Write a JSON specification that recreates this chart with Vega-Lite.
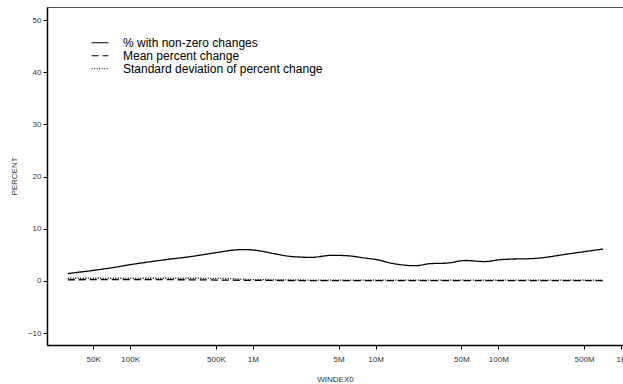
{
  "$schema": "https://vega.github.io/schema/vega-lite/v6.json",
  "autosize": {"type": "none"},
  "width": 576,
  "height": 338,
  "padding": {"left": 47, "top": 7, "right": 0, "bottom": 39},
  "background": "white",
  "config": {
    "font": "Liberation Sans",
    "view": {"stroke": "#555555", "strokeWidth": 1},
    "axis": {"grid": false, "domainColor": "black", "domainWidth": 1.5, "tickColor": "black", "tickSize": 4, "labelFontSize": 8, "labelColor": "#333333", "titleFontSize": 8, "titleFontWeight": "normal", "titleColor": "#333333", "labelFont": "Liberation Sans", "titleFont": "Liberation Sans"}
  },
  "data": {
    "values": [
      {"w": 31000, "v": 1.4, "s": "% with non-zero changes"},
      {"w": 50000, "v": 2.0, "s": "% with non-zero changes"},
      {"w": 75000, "v": 2.6, "s": "% with non-zero changes"},
      {"w": 100000, "v": 3.1, "s": "% with non-zero changes"},
      {"w": 150000, "v": 3.7, "s": "% with non-zero changes"},
      {"w": 200000, "v": 4.1, "s": "% with non-zero changes"},
      {"w": 300000, "v": 4.6, "s": "% with non-zero changes"},
      {"w": 500000, "v": 5.4, "s": "% with non-zero changes"},
      {"w": 700000, "v": 5.9, "s": "% with non-zero changes"},
      {"w": 850000, "v": 6.0, "s": "% with non-zero changes"},
      {"w": 1100000, "v": 5.8, "s": "% with non-zero changes"},
      {"w": 1500000, "v": 5.2, "s": "% with non-zero changes"},
      {"w": 2000000, "v": 4.7, "s": "% with non-zero changes"},
      {"w": 3000000, "v": 4.5, "s": "% with non-zero changes"},
      {"w": 4400000, "v": 4.9, "s": "% with non-zero changes"},
      {"w": 6000000, "v": 4.8, "s": "% with non-zero changes"},
      {"w": 8000000, "v": 4.4, "s": "% with non-zero changes"},
      {"w": 10000000, "v": 4.1, "s": "% with non-zero changes"},
      {"w": 14000000, "v": 3.3, "s": "% with non-zero changes"},
      {"w": 21000000, "v": 2.9, "s": "% with non-zero changes"},
      {"w": 28000000, "v": 3.3, "s": "% with non-zero changes"},
      {"w": 38000000, "v": 3.4, "s": "% with non-zero changes"},
      {"w": 54000000, "v": 3.9, "s": "% with non-zero changes"},
      {"w": 77000000, "v": 3.7, "s": "% with non-zero changes"},
      {"w": 109000000, "v": 4.1, "s": "% with non-zero changes"},
      {"w": 200000000, "v": 4.3, "s": "% with non-zero changes"},
      {"w": 380000000, "v": 5.2, "s": "% with non-zero changes"},
      {"w": 713000000, "v": 6.1, "s": "% with non-zero changes"},
      {"w": 31000, "v": 0.2, "s": "Mean percent change"},
      {"w": 100000, "v": 0.25, "s": "Mean percent change"},
      {"w": 300000, "v": 0.2, "s": "Mean percent change"},
      {"w": 1000000, "v": 0.1, "s": "Mean percent change"},
      {"w": 3000000, "v": 0.05, "s": "Mean percent change"},
      {"w": 10000000, "v": 0.05, "s": "Mean percent change"},
      {"w": 50000000, "v": 0.05, "s": "Mean percent change"},
      {"w": 200000000, "v": 0.05, "s": "Mean percent change"},
      {"w": 713000000, "v": 0.05, "s": "Mean percent change"},
      {"w": 31000, "v": 0.5, "s": "Standard deviation of percent change"},
      {"w": 100000, "v": 0.5, "s": "Standard deviation of percent change"},
      {"w": 300000, "v": 0.5, "s": "Standard deviation of percent change"},
      {"w": 600000, "v": 0.45, "s": "Standard deviation of percent change"},
      {"w": 1000000, "v": 0.25, "s": "Standard deviation of percent change"},
      {"w": 3000000, "v": 0.15, "s": "Standard deviation of percent change"},
      {"w": 10000000, "v": 0.12, "s": "Standard deviation of percent change"},
      {"w": 50000000, "v": 0.12, "s": "Standard deviation of percent change"},
      {"w": 200000000, "v": 0.12, "s": "Standard deviation of percent change"},
      {"w": 713000000, "v": 0.12, "s": "Standard deviation of percent change"}
    ]
  },
  "mark": {"type": "line", "color": "black", "strokeWidth": 1.3, "interpolate": "monotone", "clip": true},
  "encoding": {
    "x": {
      "field": "w", "type": "quantitative", "title": "WINDEX0",
      "scale": {"type": "log", "domain": [21000, 1038000000], "nice": false},
      "axis": {"values": [50000, 100000, 500000, 1000000, 5000000, 10000000, 50000000, 100000000, 500000000, 1000000000],
               "labelExpr": "datum.value >= 1e9 ? '1B' : datum.value >= 1e6 ? format(datum.value/1e6, 'd') + 'M' : format(datum.value/1e3, 'd') + 'K'",
               "labelPadding": 6, "titlePadding": 12, "labelOverlap": false}
    },
    "y": {
      "field": "v", "type": "quantitative", "title": "PERCENT",
      "scale": {"domain": [-12.3, 52.5], "nice": false, "zero": false},
      "axis": {"values": [-10, 0, 10, 20, 30, 40, 50], "titlePadding": 9}
    },
    "strokeDash": {
      "field": "s", "type": "nominal",
      "scale": {"domain": ["% with non-zero changes", "Mean percent change", "Standard deviation of percent change"], "range": [[1, 0], [7, 4], [1, 1.5]]},
      "legend": {"title": null, "orient": "none", "legendX": 44, "legendY": 31, "symbolType": "stroke", "symbolSize": 280, "symbolStrokeColor": "black", "symbolStrokeWidth": 1.2, "labelFontSize": 12, "labelColor": "black", "rowPadding": 0, "clipHeight": 9.5, "labelOffset": 14, "labelLimit": 0, "labelFont": "Liberation Sans"}
    }
  }
}
